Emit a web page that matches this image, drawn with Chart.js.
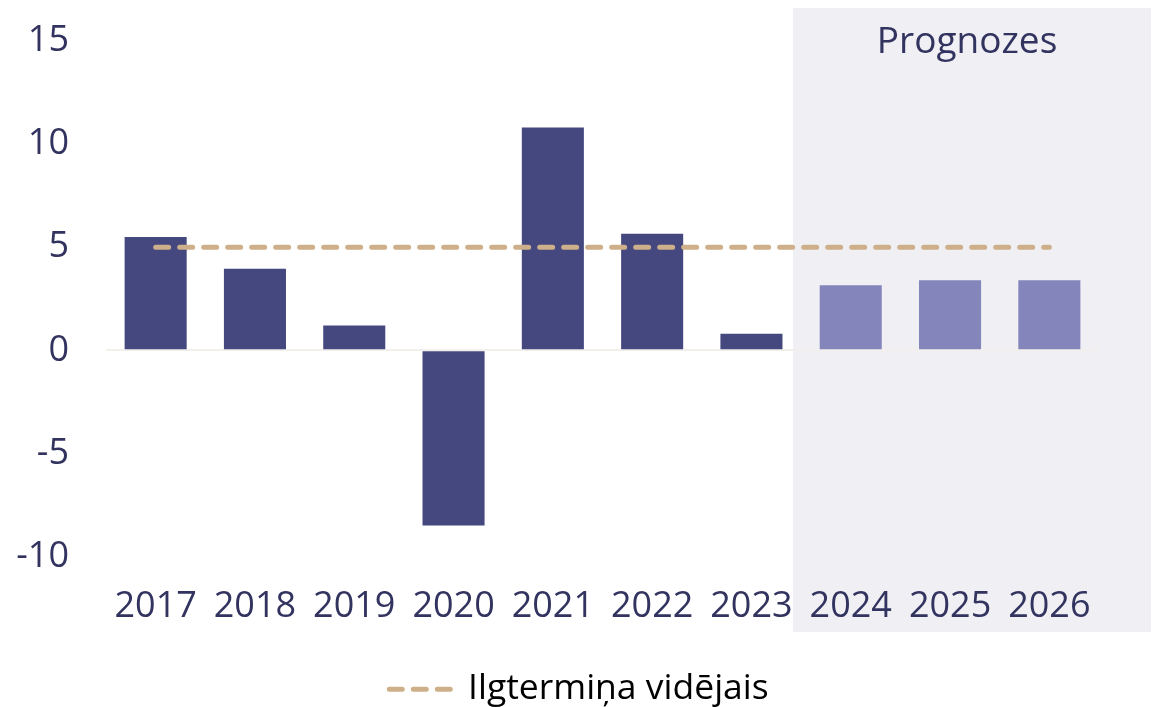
<!DOCTYPE html>
<html>
<head>
<meta charset="utf-8">
<script src="https://cdn.jsdelivr.net/npm/chart.js@4"></script>
<style>
  html, body { margin: 0; padding: 0; background: #fff; }
  #wrap { width: 1158px; height: 707px; }
</style>
</head>
<body>
<div id="wrap"><canvas id="chart"></canvas></div>
<script>
const years = ["2017", "2018", "2019", "2020", "2021", "2022", "2023", "2024", "2025", "2026"];
const growth = [5.5, 3.95, 1.2, -8.5, 10.8, 5.65, 0.8, 3.15, 3.4, 3.4];
const forecastYears = ["2024", "2025", "2026"];
const longTermAvg = [5, 5, 5, 5, 5, 5, 5, 5, 5, 5];
const yTicks = [-10, -5, 0, 5, 10, 15];
const avgLabel = "Ilgtermiņa vidējais";
const forecastLabel = "Prognozes";

const NAVY = "#32335f";
const TAN = "#cdaf89";
const FONT = "'Open Sans', sans-serif";

const barColors = years.map(y => forecastYears.includes(y) ? "#8486bb" : "#45487f");

// grey box behind forecast years + its title
const forecastBox = {
  id: "forecastBox",
  beforeDraw(chart){
    const { ctx, chartArea, scales } = chart;
    const first = years.indexOf(forecastYears[0]);
    const left = (scales.x.getPixelForValue(first - 1) + scales.x.getPixelForValue(first)) / 2 - 8;
    const right = chartArea.right + 52;
    ctx.save();
    ctx.fillStyle = "#efeff4";
    ctx.fillRect(left, 8, right - left, 624);
    ctx.fillStyle = NAVY;
    ctx.font = "37px " + FONT;
    ctx.textAlign = "center";
    ctx.textBaseline = "middle";
    ctx.fillText(forecastLabel, (left + right) / 2 - 5, 42);
    ctx.restore();
  }
};

new Chart(document.getElementById("chart"), {
  data: {
    labels: years,
    datasets: [
      {
        type: "line",
        label: avgLabel,
        data: longTermAvg,
        borderColor: TAN,
        borderWidth: 5,
        borderDash: [13, 11],
        borderCapStyle: "round",
        pointRadius: 0,
        order: 0
      },
      {
        type: "bar",
        label: "growth",
        data: growth,
        backgroundColor: barColors,
        categoryPercentage: 1,
        barPercentage: 0.625,
        order: 1
      }
    ]
  },
  options: {
    responsive: true,
    maintainAspectRatio: false,
    animation: false,
    layout: { padding: { left: 0, right: 0, top: 41, bottom: -10 } },
    plugins: {
      tooltip: { enabled: false },
      legend: {
        position: "bottom",
        labels: {
          usePointStyle: true,
          pointStyleWidth: 61,
          padding: 10,
          color: NAVY,
          font: { family: FONT, size: 35.5 },
          generateLabels: () => [{
            text: avgLabel,
            datasetIndex: 0,
            hidden: false,
            fillStyle: TAN,
            strokeStyle: TAN,
            lineWidth: 5,
            lineDash: [13, 11],
            lineCap: "round",
            pointStyle: "line"
          }]
        }
      }
    },
    scales: {
      x: {
        grid: { display: false, drawTicks: false },
        border: { display: false },
        ticks: { color: NAVY, padding: 29, font: { family: FONT, size: 36 }, maxRotation: 0 },
        afterFit: s => { s.height = 105; }
      },
      y: {
        min: -10,
        max: 15,
        afterBuildTicks: s => { s.ticks = yTicks.map(v => ({ value: v })); },
        grid: {
          drawTicks: false,
          lineWidth: 2,
          color: c => c.tick && c.tick.value === 0 ? "#f3efeb" : "rgba(0,0,0,0)"
        },
        border: { display: false },
        ticks: { color: NAVY, padding: 37, font: { family: FONT, size: 36 } },
        afterFit: s => { s.width = 106; s.paddingTop = 20; s.paddingBottom = 20; }
      },
      // empty right gutter so the legend stays centred on the page
      gutter: {
        position: "right",
        grid: { display: false, drawTicks: false },
        border: { display: false },
        ticks: { display: false },
        afterFit: s => { s.width = 59; s.paddingTop = 0; s.paddingBottom = 0; }
      }
    }
  },
  plugins: [forecastBox]
});
</script>
</body>
</html>
